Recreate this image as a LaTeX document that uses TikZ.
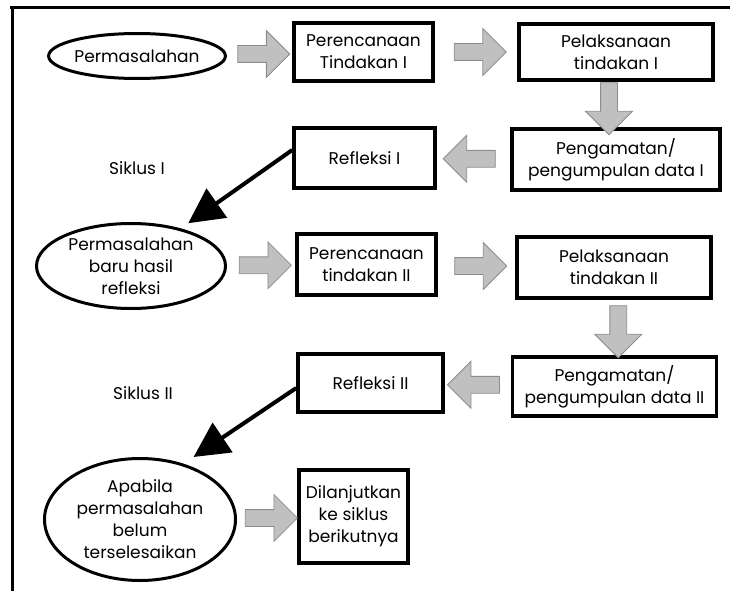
\documentclass[tikz,border=0pt]{standalone}
\usepackage{fontspec}
\setmainfont{Poppins}
\usepackage{xcolor}
\usepackage{tikz}
\usetikzlibrary{positioning}
\usetikzlibrary{calc}
\usetikzlibrary{shapes.geometric}
\usetikzlibrary{shapes.arrows}
\usetikzlibrary{arrows.meta}
\definecolor{flowfill}{RGB}{192,192,192}
\definecolor{flowline}{RGB}{140,140,140}

\begin{document}
\begin{tikzpicture}[x=1pt,y=-1pt,
  every node/.style={font=\fontsize{17}{22}\selectfont,align=center},
  stage/.style={draw,line width=3.5pt,inner sep=2pt},
  issue/.style={ellipse,draw,line width=3pt,inner sep=0pt},
  flow/.style={single arrow,draw=flowline,fill=flowfill,line width=0.8pt,
    minimum height=52pt,inner xsep=0pt,inner ysep=8pt,single arrow head extend=15pt},
  link/.style={-{Triangle[length=35pt,width=35pt]},line width=4pt}]
\useasboundingbox (0,0) rectangle (730,591);
\draw[line width=3pt] (10,8) -- (730,8) (12,8) -- (12,591);

% siklus I
\node[issue,minimum width=173pt,minimum height=45pt] (p1) at (137,56) {Permasalahan};
\node[stage,minimum width=139pt,minimum height=58pt] (r1) at (363.5,52) {Perencanaan\\Tindakan I};
\node[stage,minimum width=194pt,minimum height=56pt] (l1) at (616,52) {Pelaksanaan\\tindakan I};
\node[stage,minimum width=208pt,minimum height=61pt] (g1) at (616,159.5) {Pengamatan/\\pengumpulan data I};
\node[stage,minimum width=141pt,minimum height=60pt] (f1) at (364.5,158) {Refleksi I};
\node (s1) at (137,168) {Siklus I};

% siklus II
\node[issue,minimum width=189pt,minimum height=85pt] (e2) at (131,266) {Permasalahan\\baru hasil\\refleksi};
\node[stage,minimum width=139pt,minimum height=61pt] (r2) at (366.5,264.5) {Perencanaan\\tindakan II};
\node[stage,minimum width=194pt,minimum height=61pt] (l2) at (614,267.5) {Pelaksanaan\\tindakan II};
\node[stage,minimum width=204pt,minimum height=59pt] (g2) at (614.5,386.5) {Pengamatan/\\pengumpulan data II};
\node[stage,minimum width=145pt,minimum height=58pt] (f2) at (370.5,383) {Refleksi II};
\node (s2) at (143,393) {Siklus II};

% lanjut
\node[issue,minimum width=191pt,minimum height=122pt] (e3) at (140,519.5) {Apabila\\permasalahan\\belum\\terselesaikan};
\node[stage,minimum width=109pt,minimum height=93pt] (d) at (353.5,516.5) {Dilanjutkan\\ke siklus\\berikutnya};

% gray arrows
\node[flow] (a1) at ($(p1.east)!.5!(r1.west)$) {};
\node[flow] (a2) at ($(r1.east)!.5!(l1.west)$) {};
\node[flow,rotate=-90] (a3) at ($(l1.south)!.5!(g1.north)+(-7,0)$) {};
\node[flow,rotate=180] (a4) at ($(g1.west)!.5!(f1.east)$) {};
\node[flow] (a5) at ($(e2.east)!.5!(r2.west)$) {};
\node[flow] (a6) at ($(r2.east)!.5!(l2.west)$) {};
\node[flow,rotate=-90] (a7) at ($(l2.south)!.5!(g2.north)+(4,0)$) {};
\node[flow,rotate=180] (a8) at ($(g2.west)!.5!(f2.east)$) {};
\node[flow] (a9) at ($(e3.east)!.5!(d.west)$) {};

\draw[link,shorten >=9pt] ([yshift=8pt]f1.west) -- (e2.37);
\draw[link,shorten >=12pt] ([yshift=-5pt]f2.west) -- (e3.52);

\end{tikzpicture}
\end{document}
